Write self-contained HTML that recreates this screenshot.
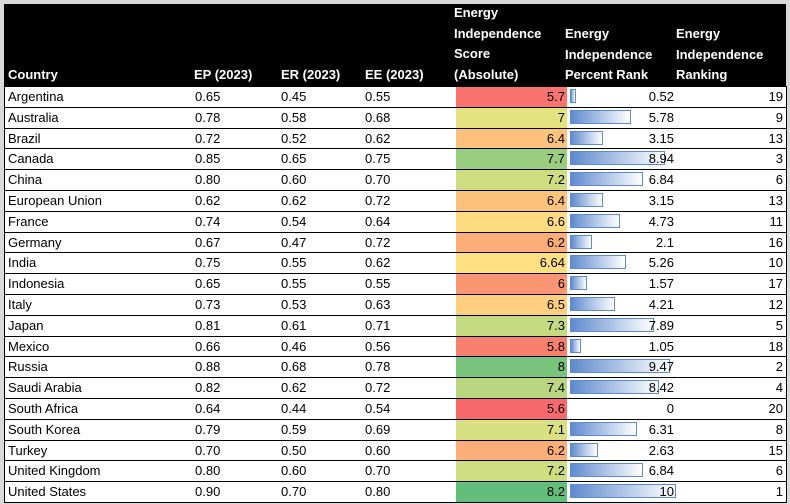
<!DOCTYPE html><html><head><style>
body{margin:0;background:#fff;width:790px;height:504px;overflow:hidden;font-family:"Liberation Sans",sans-serif;font-size:13px}
#wrap{position:absolute;left:0;top:0;width:790px;height:504px;background:#d9d9d9}
#hdr{position:absolute;left:4px;top:4px;width:782px;height:82px;background:#000;color:#fff;font-weight:bold}
.h{position:absolute;line-height:20.7px;white-space:nowrap}
#rows{position:absolute;left:4px;top:86px;width:781px;border:1px solid #000;border-top:none;background:#fff}
.r{position:relative;height:19.8px;border-top:1px solid #000}
.c{position:absolute;top:0;height:19.8px;line-height:20px;white-space:nowrap}
</style></head><body><div id="wrap">
<div id="hdr">
<div class="h" style="left:4px;top:61px">Country</div>
<div class="h" style="left:190px;top:61px">EP (2023)</div>
<div class="h" style="left:277px;top:61px">ER (2023)</div>
<div class="h" style="left:361px;top:61px">EE (2023)</div>
<div class="h" style="left:450px;top:-1px">Energy<br>Independence<br>Score<br>(Absolute)</div>
<div class="h" style="left:561px;top:20px">Energy<br>Independence<br>Percent Rank</div>
<div class="h" style="left:672px;top:20px">Energy<br>Independence<br>Ranking</div>
</div>
<div id="rows"></div>
</div>
<script>
var d=[["Argentina","0.65","0.45","0.55",5.7,0.52,19],["Australia","0.78","0.58","0.68",7,5.78,9],["Brazil","0.72","0.52","0.62",6.4,3.15,13],["Canada","0.85","0.65","0.75",7.7,8.94,3],["China","0.80","0.60","0.70",7.2,6.84,6],["European Union","0.62","0.62","0.72",6.4,3.15,13],["France","0.74","0.54","0.64",6.6,4.73,11],["Germany","0.67","0.47","0.72",6.2,2.1,16],["India","0.75","0.55","0.62",6.64,5.26,10],["Indonesia","0.65","0.55","0.55",6,1.57,17],["Italy","0.73","0.53","0.63",6.5,4.21,12],["Japan","0.81","0.61","0.71",7.3,7.89,5],["Mexico","0.66","0.46","0.56",5.8,1.05,18],["Russia","0.88","0.68","0.78",8,9.47,2],["Saudi Arabia","0.82","0.62","0.72",7.4,8.42,4],["South Africa","0.64","0.44","0.54",5.6,0,20],["South Korea","0.79","0.59","0.69",7.1,6.31,8],["Turkey","0.70","0.50","0.60",6.2,2.63,15],["United Kingdom","0.80","0.60","0.70",7.2,6.84,6],["United States","0.90","0.70","0.80",8.2,10,1]];
function mix(a,b,t){return "rgb("+a.map((x,i)=>Math.round(x+(b[i]-x)*t)).join(",")+")"}
var R=[248,105,107],Y=[255,235,132],G=[99,190,123],mid=6.75;
function col(v){return v<=mid?mix(R,Y,(v-5.6)/(mid-5.6)):mix(Y,G,(v-mid)/(8.2-mid))}
var h="";
d.forEach(function(r){
h+='<div class="r"><div class="c" style="left:3px">'+r[0]+'</div>'+
'<div class="c" style="left:190px">'+r[1]+'</div><div class="c" style="left:276px">'+r[2]+'</div><div class="c" style="left:360px">'+r[3]+'</div>'+
'<div class="c" style="left:451px;width:111px;background:'+col(r[4])+';text-align:right;box-sizing:border-box;padding-right:2px">'+r[4]+'</div>'+
(r[5]>0?'<div class="c" style="left:565px;top:2px;height:14px;box-sizing:border-box;border:1px solid #5b8bd0;width:'+Math.max(3,r[5]*10.6)+'px;background:linear-gradient(90deg,#5f8ace,#fff)"></div>':'')+
'<div class="c" style="left:565px;width:104px;text-align:right">'+r[5]+'</div>'+
'<div class="c" style="left:672px;width:106px;text-align:right">'+r[6]+'</div></div>';});
document.getElementById("rows").innerHTML=h;
</script></body></html>
